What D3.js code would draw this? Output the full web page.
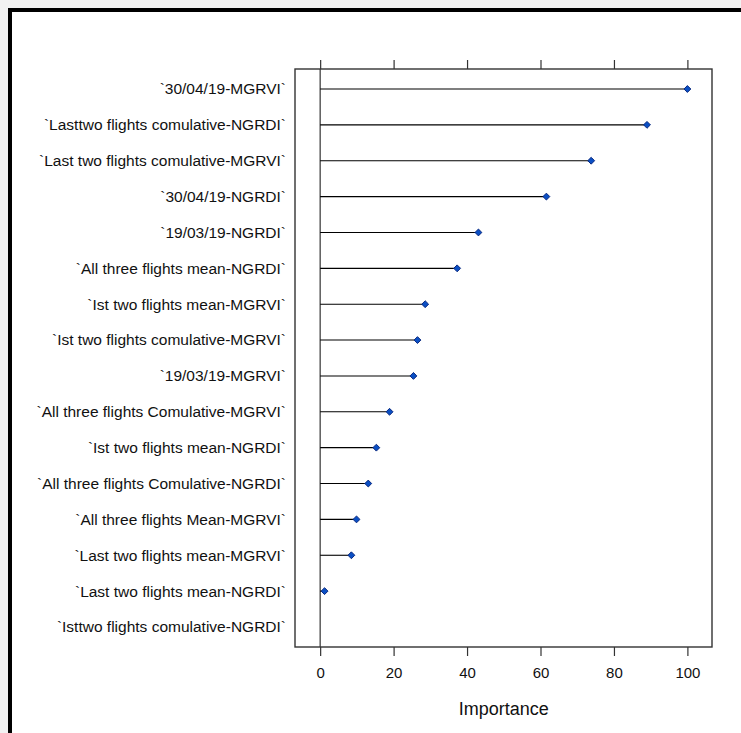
<!DOCTYPE html>
<html>
<head>
<meta charset="utf-8">
<script src="https://cdn.jsdelivr.net/npm/d3@7"></script>
<style>
  html, body { margin: 0; padding: 0; background: #f0f0f0; }
  svg { display: block; }
  text { font-family: "Liberation Sans Narrow", "Arial Narrow", "Liberation Sans", Arial, sans-serif; fill: #111; }
</style>
</head>
<body>
<svg id="chart"></svg>
<script>
const WIDTH = 741;
const HEIGHT = 733;

const features = [
  "`30/04/19-MGRVI`",
  "`Lasttwo flights comulative-NGRDI`",
  "`Last two flights comulative-MGRVI`",
  "`30/04/19-NGRDI`",
  "`19/03/19-NGRDI`",
  "`All three flights mean-NGRDI`",
  "`Ist two flights mean-MGRVI`",
  "`Ist two flights comulative-MGRVI`",
  "`19/03/19-MGRVI`",
  "`All three flights Comulative-MGRVI`",
  "`Ist two flights mean-NGRDI`",
  "`All three flights Comulative-NGRDI`",
  "`All three flights Mean-MGRVI`",
  "`Last two flights mean-MGRVI`",
  "`Last two flights mean-NGRDI`",
  "`Isttwo flights comulative-NGRDI`"
];
// last feature has no visible point in the reference
const importance = [100, 89.0, 73.8, 61.6, 43.1, 37.3, 28.6, 26.5, 25.4, 18.9, 15.3, 13.1, 9.9, 8.5, 1.2, null];
const xTicks = [0, 20, 40, 60, 80, 100];

const frame = { left: 295, right: 712, top: 69, bottom: 647 };

const svg = d3.select("#chart").attr("width", WIDTH).attr("height", HEIGHT);

// page: grey margin, thick black border, white inside
svg.append("rect").attr("x", 0).attr("y", 0).attr("width", WIDTH).attr("height", HEIGHT).attr("fill", "#f2f2f2");
svg.append("rect").attr("x", 10).attr("y", 10).attr("width", WIDTH).attr("height", HEIGHT)
   .attr("fill", "#fff").attr("stroke", "#000").attr("stroke-width", 4);

const xScale = d3.scaleLinear()
   .domain([-6.85, 106.7])
   .range([frame.left, frame.right]);

const yScale = d3.scalePoint()
   .domain(features)
   .range([89, 627]);

const points = features.map((f, i) => ({ f, v: importance[i] })).filter(d => d.v != null);

// zero line
svg.append("line")
   .attr("x1", xScale(0)).attr("x2", xScale(0))
   .attr("y1", frame.top).attr("y2", frame.bottom)
   .attr("stroke", "#333").attr("stroke-width", 1.2);

// bottom axis
const axisBottom = svg.append("g")
   .attr("transform", `translate(0,${frame.bottom})`)
   .call(d3.axisBottom(xScale).tickValues(xTicks).tickSize(9).tickPadding(11).tickSizeOuter(0));
axisBottom.select(".domain").remove();
axisBottom.selectAll("line").attr("stroke", "#333").attr("stroke-width", 1.2);
axisBottom.selectAll("text").style("font-size", "15px").attr("fill", "#111");

// top axis (ticks only)
const axisTop = svg.append("g")
   .attr("transform", `translate(0,${frame.top})`)
   .call(d3.axisTop(xScale).tickValues(xTicks).tickSize(9).tickFormat(""));
axisTop.select(".domain").remove();
axisTop.selectAll("line").attr("stroke", "#333").attr("stroke-width", 1.2);

// frame
svg.append("rect")
   .attr("x", frame.left).attr("y", frame.top)
   .attr("width", frame.right - frame.left).attr("height", frame.bottom - frame.top)
   .attr("fill", "none").attr("stroke", "#333").attr("stroke-width", 1.4);

// labels
svg.append("g").selectAll("text")
   .data(features)
   .join("text")
   .attr("x", 286)
   .attr("y", d => yScale(d))
   .attr("dy", "0.35em")
   .attr("text-anchor", "end")
   .style("font-size", "15.5px")
   .text(d => d);

// stems
svg.append("g").selectAll("line")
   .data(points)
   .join("line")
   .attr("x1", xScale(0))
   .attr("x2", d => xScale(d.v))
   .attr("y1", d => yScale(d.f))
   .attr("y2", d => yScale(d.f))
   .attr("stroke", "#000")
   .attr("stroke-width", 1.1);

// dots
svg.append("g").selectAll("path")
   .data(points)
   .join("path")
   .attr("transform", d => `translate(${xScale(d.v)},${yScale(d.f)})`)
   .attr("d", d3.symbol(d3.symbolDiamond2, 30))
   .attr("fill", "#0a4fc4")
   .attr("stroke", "#0b2a80")
   .attr("stroke-width", 1);

// axis title
svg.append("text")
   .attr("x", (xScale(0) + xScale(100)) / 2)
   .attr("y", 715)
   .attr("text-anchor", "middle")
   .style("font-size", "18px")
   .text("Importance");
</script>
</body>
</html>
